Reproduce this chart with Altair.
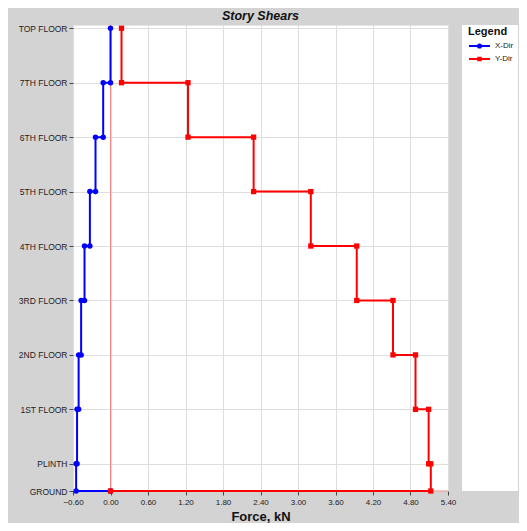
import altair as alt
import pandas as pd

# ---- data ----
floor_names = ["TOP FLOOR", "7TH FLOOR", "6TH FLOOR", "5TH FLOOR", "4TH FLOOR",
               "3RD FLOOR", "2ND FLOOR", "1ST FLOOR", "PLINTH", "GROUND"]
floor_levels = [8.5, 7.5, 6.5, 5.5, 4.5, 3.5, 2.5, 1.5, 0.5, 0.0]
# story shear for each story, top story first
x_dir = [0.0, -0.117, -0.24, -0.33, -0.416, -0.47, -0.51, -0.535, -0.55]
y_dir = [0.176, 1.24, 2.29, 3.205, 3.94, 4.52, 4.88, 5.09, 5.125]
series_names = ["X-Dir", "Y-Dir"]
series_colors = ["#0000ff", "#ff0000"]
x_ticks = [-0.6, 0.0, 0.6, 1.2, 1.8, 2.4, 3.0, 3.6, 4.2, 4.8, 5.4]

rows = []
for name, shears in zip(series_names, [x_dir, y_dir]):
    k = 0
    for i, v in enumerate(shears):
        rows.append({"series": name, "x": v, "y": floor_levels[i], "o": k}); k += 1
        rows.append({"series": name, "x": v, "y": floor_levels[i + 1], "o": k}); k += 1
    rows.append({"series": name, "x": 0.0, "y": floor_levels[-1], "o": k})
df = pd.DataFrame(rows)

lvl_str = "[" + ",".join(str(v) for v in floor_levels) + "]"
name_str = "[" + ",".join("'" + n + "'" for n in floor_names) + "]"
label_expr = f"{name_str}[indexof({lvl_str}, datum.value)]"

W, H = 375, 466
xscale = alt.Scale(domain=[-0.6, 5.4], nice=False, zero=False)
yscale = alt.Scale(domain=[0, 8.56], nice=False, zero=False)


def cscale():
    return alt.Scale(domain=series_names, range=series_colors)


xaxis = alt.Axis(values=x_ticks, tickCount=30, format=".2f", title="Force, kN", domain=False,
                 grid=True, gridColor="#dedede", tickColor="#444", tickSize=4,
                 labelFontSize=8, labelColor="#222", labelFont="Liberation Sans",
                 labelOverlap=False, labelFlush=False,
                 titleFont="Liberation Sans", titleFontSize=13, titleFontWeight="bold",
                 titleColor="#111", titlePadding=4, labelPadding=3)
yaxis = alt.Axis(values=floor_levels, tickCount=30, labelExpr=label_expr, title=None,
                 domain=False, grid=True, gridColor="#dedede", tickColor="#444", tickSize=4,
                 labelFontSize=8.5, labelColor="#222", labelFont="Liberation Sans",
                 labelOverlap=False, labelPadding=2)

circle_path = "M-1,0H1M-0.15,0A0.15,0.15 0 1,0 0.15,0A0.15,0.15 0 1,0 -0.15,0Z"
square_path = "M-1,0H1M-0.12,-0.12H0.12V0.12H-0.12Z"

legend = alt.Legend(
    title="Legend", orient="none", legendX=395, legendY=1,
    titleFont="Liberation Sans", titleFontSize=11, titleFontWeight="bold", titleColor="#111",
    labelFont="Liberation Sans", labelFontSize=8, labelColor="#222",
    symbolSize=440, symbolStrokeWidth=2, symbolOpacity=1, clipHeight=12, rowPadding=1,
    labelOffset=4, titlePadding=3,
)

box = alt.Chart(alt.Data(values=[{}])).mark_rect(color="white").encode(
    x=alt.value(389), x2=alt.value(445), y=alt.value(0), y2=alt.value(H))

zero_v = alt.Chart(alt.Data(values=[{}])).mark_rule(color="#f08888", strokeWidth=1).encode(
    x=alt.datum(0, scale=xscale, axis=xaxis))
zero_h = alt.Chart(alt.Data(values=[{}])).mark_rule(color="#f08888", strokeWidth=1).encode(
    y=alt.datum(0, scale=yscale, axis=yaxis))

base = alt.Chart(df)
lines = base.mark_line(strokeWidth=2).encode(
    x=alt.X("x:Q", scale=xscale, axis=xaxis),
    y=alt.Y("y:Q", scale=yscale, axis=yaxis),
    color=alt.Color("series:N", scale=cscale(), legend=None),
    order="o:Q",
    detail="series:N",
)
pts_x = base.transform_filter(alt.datum.series == series_names[0]).mark_point(
    filled=True, size=30, opacity=1, shape="circle").encode(
    x=alt.X("x:Q", scale=xscale), y=alt.Y("y:Q", scale=yscale),
    color=alt.Color("series:N", scale=cscale(), legend=None))
pts_y = base.transform_filter(alt.datum.series == series_names[1]).mark_point(
    filled=True, size=28, opacity=1, shape="square").encode(
    x=alt.X("x:Q", scale=xscale), y=alt.Y("y:Q", scale=yscale),
    color=alt.Color("series:N", scale=cscale(), legend=None))

# legend-only layer (draws nothing in the plot)
leg = base.mark_point(filled=False, strokeWidth=2, opacity=0).encode(
    x=alt.X("x:Q", scale=xscale), y=alt.Y("y:Q", scale=yscale),
    color=alt.Color("series:N", scale=cscale(), legend=legend),
    shape=alt.Shape("series:N", scale=alt.Scale(domain=series_names,
                                                range=[circle_path, square_path]),
                    legend=legend),
)

chart = alt.layer(box, zero_v, zero_h, lines, pts_x, pts_y, leg).resolve_scale(
    color="independent", shape="independent"
).properties(
    width=W, height=H,
    title=alt.TitleParams("Story Shears", font="Liberation Sans", fontSize=12.5,
                          fontWeight="bold", fontStyle="italic", color="#111",
                          anchor="middle", offset=2),
    autosize=alt.AutoSizeParams(type="none"),
    padding={"left": 65, "top": 17, "right": 71, "bottom": 32},
).configure(background="#d3d3d3").configure_view(fill="white", stroke="#e4e4e4")

chart.save("out.html", embed_options={"renderer": "svg", "actions": False})
